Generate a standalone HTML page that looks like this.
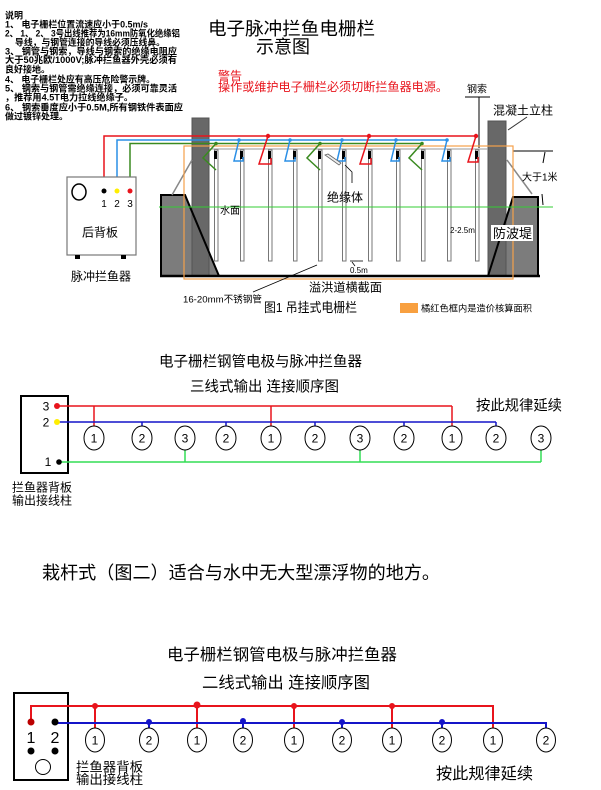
<!DOCTYPE html>
<html><head><meta charset="utf-8">
<style>
html,body{margin:0;padding:0;background:#fff;}
svg{display:block;}
text{font-family:"Liberation Sans","Noto Sans CJK SC",sans-serif;fill:#000;}
</style></head>
<body>
<svg width="601" height="790" viewBox="0 0 601 790" xmlns="http://www.w3.org/2000/svg">
<rect width="601" height="790" fill="#fff"/>

<!-- Notes -->
<g font-size="9" font-weight="bold">
<text x="5" y="18.5">说明</text>
<text x="5" y="27.5" textLength="143" lengthAdjust="spacingAndGlyphs">1、 电子栅栏位置流速应小于0.5m/s</text>
<text x="5" y="36.5" textLength="175" lengthAdjust="spacingAndGlyphs">2、 1、 2、 3号出线推荐为16mm防氧化绝缘铝</text>
<text x="15" y="45.5" textLength="150" lengthAdjust="spacingAndGlyphs">导线，与钢管连接的导线必须压线鼻。</text>
<text x="5" y="54.5" textLength="172" lengthAdjust="spacingAndGlyphs">3、 钢管与钢索，导线与钢索的绝缘电阻应</text>
<text x="5" y="63" textLength="172" lengthAdjust="spacingAndGlyphs">大于50兆欧/1000V;脉冲拦鱼器外壳必须有</text>
<text x="5" y="72.5">良好接地。</text>
<text x="5" y="82.5" textLength="150" lengthAdjust="spacingAndGlyphs">4、 电子栅栏处应有高压危险警示牌。</text>
<text x="5" y="91.5" textLength="172" lengthAdjust="spacingAndGlyphs">5、 钢索与钢管需绝缘连接，必须可靠灵活</text>
<text x="5" y="100.5" textLength="128" lengthAdjust="spacingAndGlyphs">，推荐用4.5T电力拉线绝缘子。</text>
<text x="5" y="110.5" textLength="178" lengthAdjust="spacingAndGlyphs">6、 钢索垂度应小于0.5M,所有钢铁件表面应</text>
<text x="5" y="119.5">做过镀锌处理。</text>
</g>

<!-- Title -->
<text x="208" y="35" font-size="18" textLength="167" lengthAdjust="spacingAndGlyphs">电子脉冲拦鱼电栅栏</text>
<text x="256" y="53" font-size="18" textLength="54" lengthAdjust="spacingAndGlyphs">示意图</text>

<!-- Warning -->
<text x="218" y="80" font-size="12" style="fill:#e8141c">警告</text>
<text x="218" y="91" font-size="12" style="fill:#e8141c" textLength="230" lengthAdjust="spacingAndGlyphs">操作或维护电子栅栏必须切断拦鱼器电源。</text>

<!-- steel cable label -->
<text x="467" y="92.5" font-size="10">钢索</text>
<line x1="465" y1="97" x2="490" y2="97" stroke="#000" stroke-width="1"/>
<line x1="479" y1="97" x2="479" y2="148" stroke="#000" stroke-width="1"/>
<text x="493" y="114.5" font-size="12" textLength="60" lengthAdjust="spacingAndGlyphs">混凝土立柱</text>
<line x1="508" y1="130" x2="527" y2="117" stroke="#333" stroke-width="1"/>

<!-- Embankments -->
<polygon points="161,195 185,195 219,276 161,276" fill="#7c7c7c"/>
<polygon points="513,197 538,197 538,276 488,276" fill="#7c7c7c"/>
<!-- pillars -->
<rect x="192" y="118" width="17" height="158" fill="#686868" stroke="#555" stroke-width="1"/>
<rect x="488" y="121" width="18" height="155" fill="#686868" stroke="#555" stroke-width="1"/>
<!-- embankment outlines -->
<polyline points="161,276 161,195 185,195 219,276" fill="none" stroke="#000" stroke-width="2"/>
<polyline points="488,276 513,197 538,197 538,276" fill="none" stroke="#000" stroke-width="2"/>
<line x1="160" y1="276" x2="540" y2="276" stroke="#000" stroke-width="2.5"/>

<!-- gray diagonal lines -->
<line x1="172" y1="195" x2="192" y2="160" stroke="#888" stroke-width="1.5"/>
<line x1="507" y1="160" x2="532" y2="194" stroke="#888" stroke-width="1.5"/>

<!-- dimension right -->
<line x1="513" y1="151" x2="553" y2="151" stroke="#000" stroke-width="1"/>
<line x1="545" y1="152" x2="543" y2="163" stroke="#000" stroke-width="1"/>
<line x1="542" y1="194" x2="543" y2="205" stroke="#000" stroke-width="1"/>
<text x="522" y="180.5" font-size="10">大于1米</text>

<!-- steel cable (gray) -->
<line x1="209" y1="149" x2="488" y2="149" stroke="#999" stroke-width="1"/>

<!-- pipes -->
<g fill="#fff" stroke="#777" stroke-width="1">
<rect x="214.5" y="150" width="3.5" height="111"/>
<rect x="240.5" y="150" width="3.5" height="111"/>
<rect x="268.5" y="150" width="3.5" height="111"/>
<rect x="293.5" y="150" width="3.5" height="111"/>
<rect x="318.5" y="150" width="3.5" height="111"/>
<rect x="342.5" y="150" width="3.5" height="111"/>
<rect x="368.5" y="150" width="3.5" height="111"/>
<rect x="396.5" y="150" width="3.5" height="111"/>
<rect x="421.5" y="150" width="3.5" height="111"/>
<rect x="447.5" y="150" width="3.5" height="111"/>
<rect x="475.5" y="150" width="3.5" height="111"/>
</g>
<g fill="#000">
<rect x="214" y="151" width="3" height="8"/>
<rect x="240" y="151" width="3" height="8"/>
<rect x="268" y="151" width="3" height="8"/>
<rect x="293" y="151" width="3" height="8"/>
<rect x="318" y="151" width="3" height="8"/>
<rect x="342" y="151" width="3" height="8"/>
<rect x="368" y="151" width="3" height="8"/>
<rect x="396" y="151" width="3" height="8"/>
<rect x="421" y="151" width="3" height="8"/>
<rect x="447" y="151" width="3" height="8"/>
<rect x="475" y="151" width="3" height="8"/>
</g>

<!-- orange frame -->
<rect x="184" y="146" width="329" height="133" fill="none" stroke="#f5a04a" stroke-width="1.2"/>
<!-- water line -->
<line x1="159" y1="207" x2="553" y2="207" stroke="#3c3" stroke-width="1"/>

<!-- Wires -->
<path d="M104,191 V136 H477" fill="none" stroke="#e8141c" stroke-width="1.5"/>
<path d="M117,191 V140 H447" fill="none" stroke="#2a8fe6" stroke-width="1.5"/>
<path d="M130,191 V143.5 H422" fill="none" stroke="#3a8a20" stroke-width="1.5"/>

<!-- connectors -->
<g fill="none" stroke-width="1.5">
<path d="M216,143.5 L203,158 L216,170" stroke="#3a8a20"/>
<path d="M320,143.5 L307,158 L320,170" stroke="#3a8a20"/>
<path d="M422,143.5 L409,158 L422,170" stroke="#3a8a20"/>
<path d="M239,140 L234,161 L243,161 L243,157" stroke="#2a8fe6"/>
<path d="M290,140 L285,161 L295,161 L295,157" stroke="#2a8fe6"/>
<path d="M342,140 L337,161 L345,161 L345,157" stroke="#2a8fe6"/>
<path d="M396,140 L391,161 L399,161 L399,157" stroke="#2a8fe6"/>
<path d="M447,140 L442,161 L450,161 L450,157" stroke="#2a8fe6"/>
<path d="M268,136 L259,164 L271,164 L271,158" stroke="#e8141c"/>
<path d="M369,136 L360,164 L371,164 L371,158" stroke="#e8141c"/>
<path d="M476,136 L468,162 L478,162 L478,157" stroke="#e8141c"/>
</g>
<g>
<circle cx="216" cy="143.5" r="1.8" fill="#3a8a20"/>
<circle cx="320" cy="143.5" r="1.8" fill="#3a8a20"/>
<circle cx="422" cy="143.5" r="1.8" fill="#3a8a20"/>
<circle cx="239" cy="140" r="1.8" fill="#2a8fe6"/>
<circle cx="290" cy="140" r="1.8" fill="#2a8fe6"/>
<circle cx="342" cy="140" r="1.8" fill="#2a8fe6"/>
<circle cx="396" cy="140" r="1.8" fill="#2a8fe6"/>
<circle cx="447" cy="140" r="1.8" fill="#2a8fe6"/>
<circle cx="268" cy="136" r="2.2" fill="#e8141c"/>
<circle cx="369" cy="136" r="2.2" fill="#e8141c"/>
<circle cx="476" cy="136" r="2.2" fill="#e8141c"/>
</g>
<!-- insulator pointer -->
<polygon points="325,155 328,154 341,163 339,165" fill="#eee" stroke="#666" stroke-width="0.8"/>
<polyline points="345,165 352,172 352,183" fill="none" stroke="#000" stroke-width="0.8"/>
<text x="327" y="201.5" font-size="12">绝缘体</text>
<text x="220" y="214" font-size="10">水面</text>
<text x="450" y="233" font-size="8">2-2.5m</text>
<rect x="491" y="225" width="42" height="16" fill="#fff"/>
<text x="493" y="238" font-size="13">防波堤</text>

<!-- bottom labels -->
<line x1="350" y1="261" x2="363" y2="261" stroke="#000" stroke-width="0.8"/>
<line x1="352" y1="262" x2="355" y2="266" stroke="#000" stroke-width="0.8"/>
<text x="350" y="273" font-size="8">0.5m</text>
<line x1="253" y1="292" x2="317" y2="265" stroke="#000" stroke-width="0.8"/>
<text x="309" y="291.5" font-size="12" textLength="73" lengthAdjust="spacingAndGlyphs">溢洪道横截面</text>
<text x="183" y="302.5" font-size="9.5" textLength="79" lengthAdjust="spacingAndGlyphs">16-20mm不锈钢管</text>
<text x="264" y="312" font-size="13" textLength="93" lengthAdjust="spacingAndGlyphs">图1 吊挂式电栅栏</text>
<rect x="400" y="303" width="18" height="10" fill="#f8a040"/>
<text x="421" y="311.5" font-size="9" textLength="111" lengthAdjust="spacingAndGlyphs">橘红色框内是造价核算面积</text>

<!-- Device box -->
<rect x="67" y="177" width="69" height="78" fill="#fff" stroke="#777" stroke-width="1.2"/>
<ellipse cx="79" cy="192" rx="7" ry="8" fill="none" stroke="#000" stroke-width="1.5"/>
<circle cx="104" cy="191" r="2.5" fill="#000"/>
<circle cx="117" cy="191" r="2.5" fill="#ffee00"/>
<circle cx="130" cy="191" r="2.5" fill="#e8141c"/>
<g font-size="10" text-anchor="middle">
<text x="104" y="207">1</text><text x="117" y="207">2</text><text x="130" y="207">3</text>
</g>
<text x="100" y="236.5" font-size="12" text-anchor="middle">后背板</text>
<rect x="75" y="255" width="5" height="4" fill="#000"/>
<rect x="121" y="255" width="5" height="4" fill="#000"/>
<text x="71" y="280.5" font-size="12" textLength="60" lengthAdjust="spacingAndGlyphs">脉冲拦鱼器</text>

<!-- ===== Diagram 2 ===== -->
<text x="159" y="366.5" font-size="14.5" textLength="203" lengthAdjust="spacingAndGlyphs">电子栅栏钢管电极与脉冲拦鱼器</text>
<text x="190" y="391.5" font-size="14.5" textLength="149" lengthAdjust="spacingAndGlyphs">三线式输出 连接顺序图</text>
<text x="476" y="410.5" font-size="14.5" textLength="86" lengthAdjust="spacingAndGlyphs">按此规律延续</text>

<rect x="21" y="396" width="47" height="77" fill="#fff" stroke="#000" stroke-width="2"/>
<g font-size="12" text-anchor="middle">
<text x="46" y="410.5">3</text><text x="46" y="426.5">2</text><text x="48" y="466">1</text>
</g>

<g fill="none" stroke-width="1.5">
<line x1="57" y1="406" x2="452" y2="406" stroke="#e8141c"/>
<line x1="94" y1="406" x2="94" y2="426" stroke="#e8141c"/>
<line x1="271" y1="406" x2="271" y2="426" stroke="#e8141c"/>
<line x1="452" y1="406" x2="452" y2="426" stroke="#e8141c"/>
<line x1="57" y1="422" x2="496" y2="422" stroke="#1414c8"/>
<line x1="142" y1="422" x2="142" y2="426" stroke="#1414c8"/>
<line x1="226" y1="422" x2="226" y2="426" stroke="#1414c8"/>
<line x1="315" y1="422" x2="315" y2="426" stroke="#1414c8"/>
<line x1="404" y1="422" x2="404" y2="426" stroke="#1414c8"/>
<line x1="496" y1="422" x2="496" y2="426" stroke="#1414c8"/>
<line x1="59" y1="462" x2="541" y2="462" stroke="#33dd55"/>
<line x1="185" y1="462" x2="185" y2="450" stroke="#33dd55"/>
<line x1="360" y1="462" x2="360" y2="450" stroke="#33dd55"/>
<line x1="541" y1="462" x2="541" y2="450" stroke="#33dd55"/>
</g>
<circle cx="57" cy="406" r="3" fill="#e8141c"/>
<circle cx="57" cy="422" r="3" fill="#ffee00"/>
<circle cx="59" cy="462" r="2.8" fill="#000"/>

<g fill="#fff" stroke="#000" stroke-width="1">
<ellipse cx="94" cy="438" rx="10" ry="12"/>
<ellipse cx="142" cy="438" rx="10" ry="12"/>
<ellipse cx="185" cy="438" rx="10" ry="12"/>
<ellipse cx="226" cy="438" rx="10" ry="12"/>
<ellipse cx="271" cy="438" rx="10" ry="12"/>
<ellipse cx="315" cy="438" rx="10" ry="12"/>
<ellipse cx="360" cy="438" rx="10" ry="12"/>
<ellipse cx="404" cy="438" rx="10" ry="12"/>
<ellipse cx="452" cy="438" rx="10" ry="12"/>
<ellipse cx="496" cy="438" rx="10" ry="12"/>
<ellipse cx="541" cy="438" rx="10" ry="12"/>
</g>
<g font-size="12" text-anchor="middle">
<text x="94" y="442.5">1</text><text x="142" y="442.5">2</text><text x="185" y="442.5">3</text>
<text x="226" y="442.5">2</text><text x="271" y="442.5">1</text><text x="315" y="442.5">2</text>
<text x="360" y="442.5">3</text><text x="404" y="442.5">2</text><text x="452" y="442.5">1</text>
<text x="496" y="442.5">2</text><text x="541" y="442.5">3</text>
</g>
<text x="12" y="491.5" font-size="12" textLength="60" lengthAdjust="spacingAndGlyphs">拦鱼器背板</text>
<text x="12" y="504.5" font-size="12" textLength="60" lengthAdjust="spacingAndGlyphs">输出接线柱</text>

<!-- middle sentence -->
<text x="42" y="579" font-size="18" textLength="398" lengthAdjust="spacingAndGlyphs">栽杆式（图二）适合与水中无大型漂浮物的地方。</text>

<!-- ===== Diagram 3 ===== -->
<text x="167" y="660" font-size="16" textLength="230" lengthAdjust="spacingAndGlyphs">电子栅栏钢管电极与脉冲拦鱼器</text>
<text x="202" y="688" font-size="16" textLength="168" lengthAdjust="spacingAndGlyphs">二线式输出 连接顺序图</text>

<rect x="14" y="693" width="54" height="87" fill="#fff" stroke="#000" stroke-width="2"/>
<g fill="none" stroke-width="2">
<path d="M31,722 V706 H493 V728" stroke="#e8141c"/>
<line x1="95" y1="706" x2="95" y2="728" stroke="#e8141c"/>
<line x1="197" y1="706" x2="197" y2="728" stroke="#e8141c"/>
<line x1="294" y1="706" x2="294" y2="728" stroke="#e8141c"/>
<line x1="392" y1="706" x2="392" y2="728" stroke="#e8141c"/>
<path d="M55,723 H546 V728" stroke="#1414c8"/>
<line x1="149" y1="723" x2="149" y2="728" stroke="#1414c8"/>
<line x1="243" y1="723" x2="243" y2="728" stroke="#1414c8"/>
<line x1="342" y1="723" x2="342" y2="728" stroke="#1414c8"/>
<line x1="442" y1="723" x2="442" y2="728" stroke="#1414c8"/>
</g>
<g fill="#e8141c">
<circle cx="95" cy="706" r="3"/><circle cx="197" cy="705" r="3.5"/><circle cx="294" cy="706" r="3"/><circle cx="392" cy="706" r="3"/>
</g>
<g fill="#1414c8">
<circle cx="149" cy="722" r="3"/><circle cx="243" cy="721" r="3"/><circle cx="342" cy="722" r="3"/><circle cx="442" cy="722" r="3"/>
</g>
<circle cx="31" cy="722" r="3.5" fill="#b00"/>
<circle cx="55" cy="722" r="3.5" fill="#000"/>
<circle cx="31" cy="751" r="3.5" fill="#000"/>
<circle cx="55" cy="751" r="3.5" fill="#000"/>
<g font-size="16" text-anchor="middle">
<text x="31" y="743">1</text><text x="55" y="743">2</text>
</g>
<circle cx="43" cy="767" r="7.5" fill="none" stroke="#000" stroke-width="1"/>

<g fill="#fff" stroke="#000" stroke-width="1">
<ellipse cx="95" cy="740" rx="9.5" ry="12"/>
<ellipse cx="149" cy="740" rx="9.5" ry="12"/>
<ellipse cx="197" cy="740" rx="9.5" ry="12"/>
<ellipse cx="243" cy="740" rx="9.5" ry="12"/>
<ellipse cx="294" cy="740" rx="9.5" ry="12"/>
<ellipse cx="342" cy="740" rx="9.5" ry="12"/>
<ellipse cx="392" cy="740" rx="9.5" ry="12"/>
<ellipse cx="442" cy="740" rx="9.5" ry="12"/>
<ellipse cx="493" cy="740" rx="9.5" ry="12"/>
<ellipse cx="546" cy="740" rx="9.5" ry="12"/>
</g>
<g font-size="12" text-anchor="middle">
<text x="95" y="744.5">1</text><text x="149" y="744.5">2</text><text x="197" y="744.5">1</text>
<text x="243" y="744.5">2</text><text x="294" y="744.5">1</text><text x="342" y="744.5">2</text>
<text x="392" y="744.5">1</text><text x="442" y="744.5">2</text><text x="493" y="744.5">1</text>
<text x="546" y="744.5">2</text>
</g>
<text x="76" y="771.5" font-size="13" textLength="67" lengthAdjust="spacingAndGlyphs">拦鱼器背板</text>
<text x="76" y="784" font-size="13" textLength="67" lengthAdjust="spacingAndGlyphs">输出接线柱</text>
<text x="436" y="779" font-size="16" textLength="97" lengthAdjust="spacingAndGlyphs">按此规律延续</text>
</svg>
</body></html>
